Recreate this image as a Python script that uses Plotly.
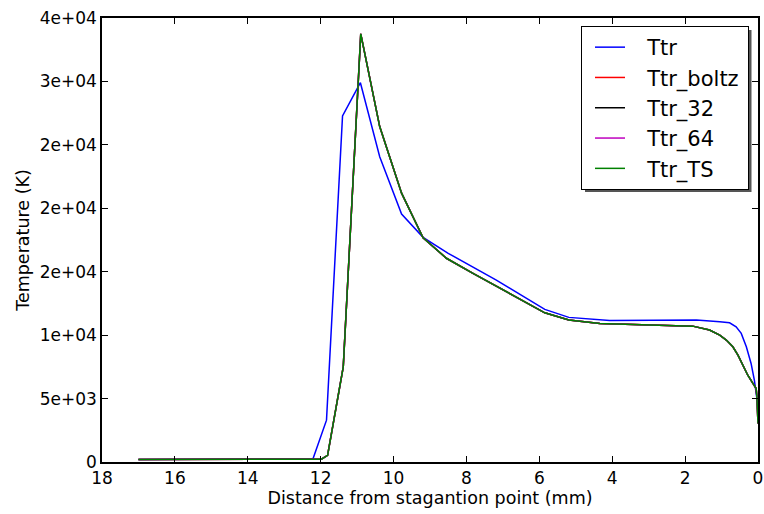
import plotly.graph_objects as go

# Distance from stagnation point (mm) and translational temperature (K)
dist_ttr = [17.0, 12.21, 11.84, 11.40, 10.91, 10.38, 9.78, 9.19, 8.50, 7.18,
            5.85, 5.19, 4.07, 1.69, 1.05, 0.78, 0.60, 0.46, 0.32, 0.19, 0.10, 0.03, 0.0]
ttr = [200, 250, 3300, 27280, 29900, 24070, 19550, 17710, 16450, 14340,
       12030, 11400, 11160, 11190, 11050, 10970, 10660, 10140, 9080, 7770, 6450, 5000, 4900]

dist_dsmc = [17.0, 11.98, 11.81, 11.38, 10.90, 10.38, 9.78, 9.19, 8.55, 7.82,
             5.85, 5.19, 4.34, 2.42, 1.79, 1.33, 1.05, 0.87, 0.69, 0.55, 0.42,
             0.28, 0.14, 0.05, 0.03, 0.0]
ttr_boltz = [200, 220, 530, 7500, 33750, 26440, 21190, 17680, 16060, 14870,
             11760, 11190, 10920, 10790, 10710, 10400, 10000, 9610, 9080, 8420, 7630,
             6840, 6190, 5790, 5130, 3030]
ttr_32 = [200, 220, 530, 7500, 33750, 26440, 21190, 17680, 16060, 14870,
          11760, 11190, 10920, 10790, 10710, 10400, 10000, 9610, 9080, 8420, 7630,
          6840, 6190, 5790, 5130, 3030]
ttr_64 = [200, 220, 530, 7500, 33750, 26440, 21190, 17680, 16060, 14870,
          11760, 11190, 10920, 10790, 10710, 10400, 10000, 9610, 9080, 8420, 7630,
          6840, 6190, 5790, 5130, 3030]
ttr_ts = [200, 220, 530, 7500, 33750, 26440, 21190, 17680, 16060, 14870,
          11760, 11190, 10920, 10790, 10710, 10400, 10000, 9610, 9080, 8420, 7630,
          6840, 6190, 5790, 5130, 3030]

y_tickvals = [0, 5000, 10000, 15000, 20000, 25000, 30000, 35000]
y_ticktext = ["0", "5e+03", "1e+04", "2e+04", "2e+04", "2e+04", "3e+04", "4e+04"]
x_tickvals = [18, 16, 14, 12, 10, 8, 6, 4, 2, 0]

FONT = "DejaVu Sans"
PAD = "\u2002\u00a0"   # gap between legend line sample and label
TAIL = "\u200a\u200a"  # small right padding inside the legend box

fig = go.Figure()
series = [
    ("Ttr", dist_ttr, ttr, "#0000ff"),
    ("Ttr_boltz", dist_dsmc, ttr_boltz, "#ff0000"),
    ("Ttr_32", dist_dsmc, ttr_32, "#000000"),
    ("Ttr_64", dist_dsmc, ttr_64, "#bf00bf"),
    ("Ttr_TS", dist_dsmc, ttr_ts, "#008000"),
]
for name, x, y, color in series:
    fig.add_trace(go.Scatter(x=x, y=y, mode="lines", name=PAD + name + TAIL,
                             line=dict(color=color, width=1.5)))

axis_common = dict(
    showline=True, linecolor="black", linewidth=1.5, mirror="ticks",
    ticks="inside", ticklen=6, tickwidth=1, tickcolor="black",
    showgrid=False, zeroline=False, automargin=False,
    tickfont=dict(family=FONT, size=17, color="black"),
)

fig.update_xaxes(range=[18, 0], tickvals=x_tickvals,
                 title=dict(text="Distance from stagantion point (mm)",
                            font=dict(family=FONT, size=17.5, color="black"),
                            standoff=4),
                 **axis_common)
fig.update_yaxes(range=[0, 35000], tickvals=y_tickvals, ticktext=y_ticktext,
                 title=dict(text="Temperature (K)",
                            font=dict(family=FONT, size=17.5, color="black"),
                            standoff=6),
                 **axis_common)

L, R, T, B = 102, 6, 18, 52
W, H = 764, 514
pw, ph = W - L - R, H - T - B

def px_x(p):
    return (p - L) / pw

def px_y(p):
    return (H - B - p) / ph

# legend drop shadow
fig.add_shape(type="rect", xref="paper", yref="paper",
              x0=px_x(585), x1=px_x(751.5), y0=px_y(192), y1=px_y(30),
              fillcolor="#555555", line=dict(width=0), layer="above")

fig.update_layout(
    width=W, height=H,
    margin=dict(l=L, r=R, t=T, b=B),
    plot_bgcolor="white", paper_bgcolor="white",
    font=dict(family=FONT, size=17, color="black"),
    legend=dict(x=px_x(581), y=px_y(26), xanchor="left", yanchor="top",
                bgcolor="white", bordercolor="black", borderwidth=1,
                font=dict(family=FONT, size=21, color="black"),
                indentation=8),
)

fig.write_html("out.html")
